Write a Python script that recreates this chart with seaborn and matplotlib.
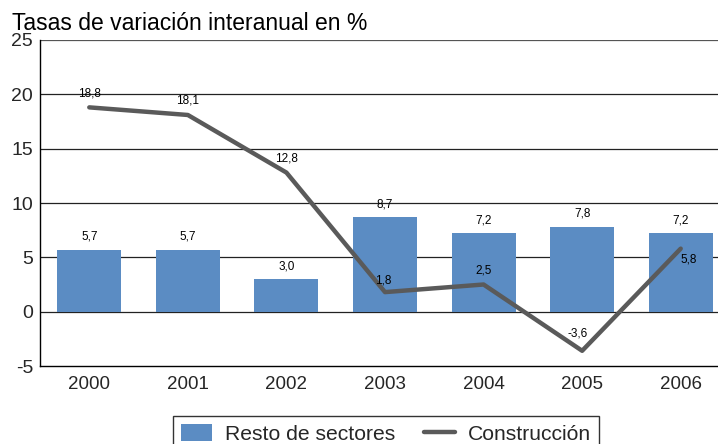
import numpy as np
import pandas as pd
import matplotlib
matplotlib.use("Agg")
import matplotlib.pyplot as plt
import seaborn as sns
from matplotlib.patches import Patch
from matplotlib.lines import Line2D

years = ["2000", "2001", "2002", "2003", "2004", "2005", "2006"]
resto = [5.7, 5.7, 3.0, 8.7, 7.2, 7.8, 7.2]
construccion = [18.8, 18.1, 12.8, 1.8, 2.5, -3.6, 5.8]
yticks = [-5, 0, 5, 10, 15, 20, 25]

title = "Tasas de variación interanual en %"
series_names = ["Resto de sectores", "Construcción"]

sns.set_theme(style="white")
plt.rcParams["font.family"] = ["Liberation Sans", "DejaVu Sans"]

bar_color = "#5b8cc3"
line_color = "#5a5a5a"

fig = plt.figure(figsize=(7.18, 4.44), dpi=100)
ax = fig.add_axes([40 / 718, 1 - 366 / 444, 690 / 718, (366 - 40) / 444])

df = pd.DataFrame({"year": years, "resto": resto, "construccion": construccion})

# gridlines behind
for v in yticks[1:]:
    ax.axhline(v, color="#222222" if v != 25 else "#555555", lw=0.9, zorder=0)

sns.barplot(data=df, x="year", y="resto", color=bar_color, width=0.65,
            saturation=1, ax=ax, zorder=2, linewidth=0)
xpos = np.arange(len(years))
sns.lineplot(x=xpos, y=construccion, color=line_color, lw=3.2, ax=ax,
             zorder=3, sort=False)

ax.set_ylim(-5, 25)
ax.set_xlim(-0.5, len(years) - 0.5)
ax.set_yticks(yticks)
ax.set_yticklabels([str(v) for v in yticks], fontsize=14)
ax.set_xticks(xpos)
ax.set_xticklabels(years, fontsize=13.5)
ax.set_xlabel("")
ax.set_ylabel("")
ax.tick_params(axis="y", direction="in", length=6, width=1, color="black", pad=5)
ax.tick_params(axis="x", length=0, pad=7)
for s in ["top", "right"]:
    ax.spines[s].set_visible(False)
for s in ["left", "bottom"]:
    ax.spines[s].set_color("black")
    ax.spines[s].set_linewidth(1)

def fmt(v):
    return f"{v:.1f}".replace(".", ",")

for i, v in enumerate(resto):
    ax.annotate(fmt(v), (i, v), xytext=(0, 5), textcoords="offset points",
                ha="center", va="bottom", fontsize=8.5, color="black", zorder=5)

line_offsets = [(0, 6), (0, 6), (0, 6), (-1, 4), (0, 6), (-3, 8), (6, -12)]
for i, (v, off) in enumerate(zip(construccion, line_offsets)):
    ax.annotate(fmt(v), (i, v), xytext=off, textcoords="offset points",
                ha="center", va="bottom", fontsize=8.5, color="black", zorder=5)

fig.text(12 / 718, 1 - 30 / 444, title, fontsize=16.5, ha="left",
         va="baseline", color="black")

handles = [Patch(facecolor=bar_color, edgecolor="none"),
           Line2D([0], [0], color=line_color, lw=3.2)]
leg = fig.legend(handles, series_names, loc="upper center",
                 bbox_to_anchor=(386 / 718, 1 - 416 / 444), ncol=2,
                 frameon=True, fancybox=False, edgecolor="black",
                 handlelength=1.45, handleheight=0.85, columnspacing=1.4,
                 handletextpad=0.6, borderaxespad=0, borderpad=0.4,
                 prop={"size": 15.2})
leg.get_frame().set_linewidth(1)
fig.canvas.draw()
# widen frame padding horizontally a bit
leg._legend_box.sep = 0

fig.savefig("out.png", dpi=100)
